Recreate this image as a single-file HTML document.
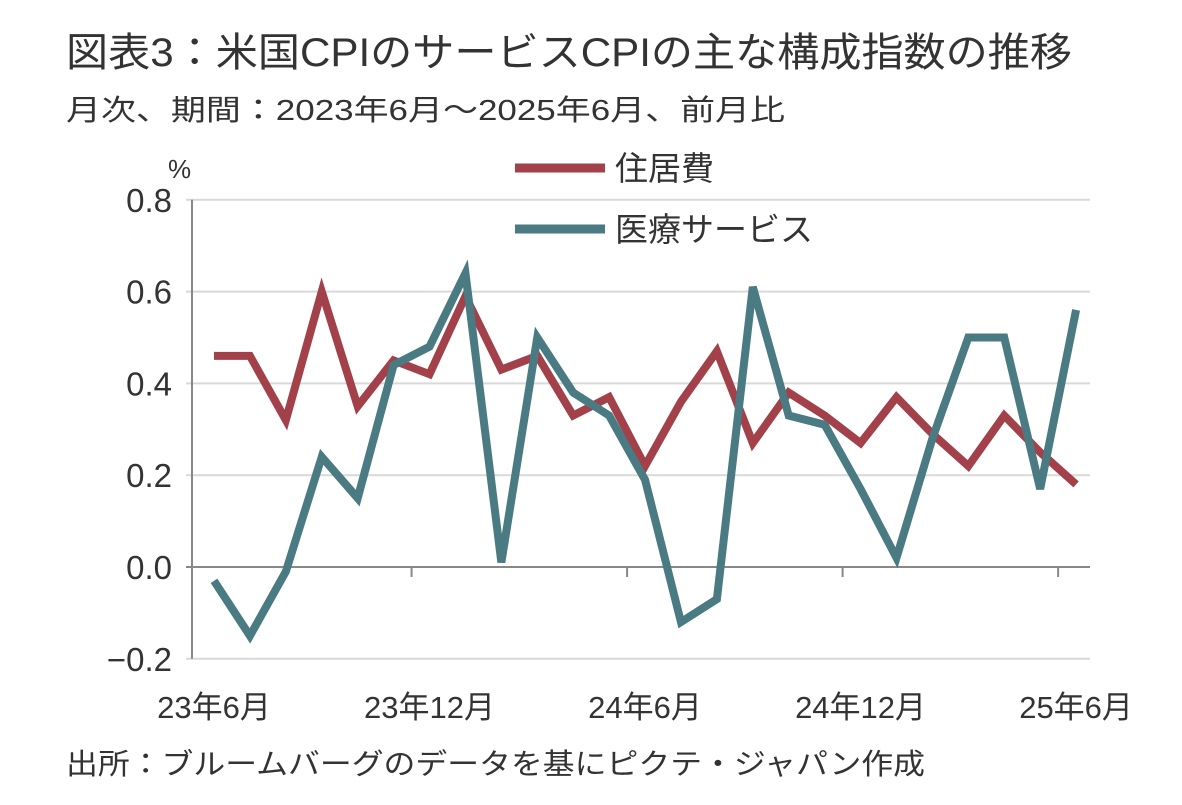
<!DOCTYPE html>
<html><head><meta charset="utf-8"><style>
body{margin:0;background:#fff;width:1182px;height:800px;overflow:hidden;font-family:"Liberation Sans","Noto Sans CJK JP",sans-serif;}
svg text{font-family:"Liberation Sans","Noto Sans CJK JP",sans-serif;}
</style></head><body>
<svg id="c" width="1182" height="800">
<text x="66" y="66" font-size="40" fill="#333" textLength="1006" lengthAdjust="spacingAndGlyphs">図表3：米国CPIのサービスCPIの主な構成指数の推移</text>
<text x="66" y="120" font-size="29" fill="#333" textLength="719" lengthAdjust="spacingAndGlyphs">月次、期間：2023年6月～2025年6月、前月比</text>
<text x="168" y="178" font-size="26" fill="#333">%</text>
<text x="66" y="774" font-size="29" fill="#333" textLength="859" lengthAdjust="spacingAndGlyphs">出所：ブルームバーグのデータを基にピクテ・ジャパン作成</text>
<g>
<line x1="515" y1="168" x2="605" y2="168" stroke="#a3414a" stroke-width="9"/>
<text x="615" y="180" font-size="33" fill="#333">住居費</text>
<line x1="515" y1="229" x2="605" y2="229" stroke="#4a7a82" stroke-width="9"/>
<text x="615" y="241" font-size="33" fill="#333">医療サービス</text>
</g>
<g id="grid"></g><g id="axes"></g><g id="series"></g>
</svg>
<script>
const categories=["23/6","23/7","23/8","23/9","23/10","23/11","23/12","24/1","24/2","24/3","24/4","24/5","24/6","24/7","24/8","24/9","24/10","24/11","24/12","25/1","25/2","25/3","25/4","25/5","25/6"];
const housing=[0.46,0.46,0.32,0.60,0.35,0.45,0.42,0.59,0.43,0.46,0.33,0.37,0.22,0.36,0.47,0.27,0.38,0.33,0.27,0.37,0.29,0.22,0.33,0.25,0.18];
const medical=[-0.03,-0.15,-0.01,0.24,0.15,0.44,0.48,0.64,0.01,0.50,0.38,0.33,0.19,-0.12,-0.07,0.61,0.33,0.31,0.17,0.02,0.28,0.50,0.50,0.17,0.56];
const yTicks=[0.8,0.6,0.4,0.2,0.0,-0.2];
const yTickLabels=["0.8","0.6","0.4","0.2","0.0","\u22120.2"];
const xTickLabels=[[0,"23年6月"],[6,"23年12月"],[12,"24年6月"],[18,"24年12月"],[24,"25年6月"]];
const NS="http://www.w3.org/2000/svg";
const left=196,right=1090,x0=214,step=35.92;
function X(i){return x0+i*step;}
function Y(v){return 567-v*459;}
function mk(t,a,p){const e=document.createElementNS(NS,t);for(const k in a)e.setAttribute(k,a[k]);p.appendChild(e);return e;}
const grid=document.getElementById('grid'),axes=document.getElementById('axes'),series=document.getElementById('series');
yTicks.forEach((v,i)=>{
 const l=mk('line',{x1:left-10,x2:right,y1:Y(v),y2:Y(v),stroke:v===0?'#888':'#d9d9d9','stroke-width':2},grid);
 
 
 const t=mk('text',{x:172,y:Y(v)+12,'font-size':33,'text-anchor':'end',fill:'#333'},axes);
 t.textContent=yTickLabels[i];
 
 
});
const ya=mk('line',{x1:left-4,x2:left-4,y1:Y(0.8),y2:Y(-0.2),stroke:'#888','stroke-width':2},axes);


for(let b=6;b<=24;b+=6){
 const tk=mk('line',{x1:X(b-0.5),x2:X(b-0.5),y1:567,y2:577,stroke:'#888','stroke-width':2},axes);
 
 
}
xTickLabels.forEach(([i,s])=>{
 const t=mk('text',{x:X(i),y:718,'font-size':31,'text-anchor':'middle',fill:'#333'},axes);
 t.textContent=s;
 
 
});
function line(d,c,n){
 const p=mk('polyline',{points:d.map((v,i)=>X(i)+','+Y(v)).join(' '),fill:'none',stroke:c,'stroke-width':8,'stroke-linejoin':'miter'},series);
 
 
}
line(housing,'#a3414a','housing-line');
line(medical,'#4a7a82','medical-services-line');
</script>
</body></html>
